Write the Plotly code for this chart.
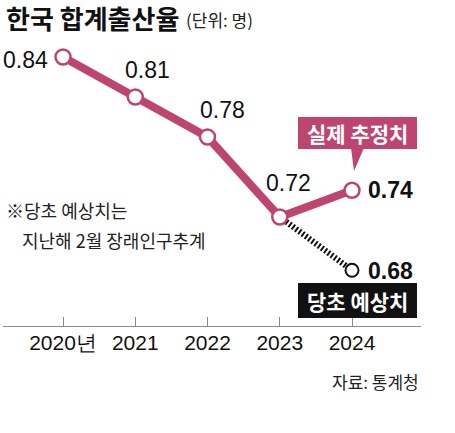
import plotly.graph_objects as go

# ---- data ----
years = [2020, 2021, 2022, 2023, 2024]
tick_labels = ["2020년", "2021", "2022", "2023", "2024"]
actual = [0.84, 0.81, 0.78, 0.72, 0.74]
forecast_years = [2023, 2024]
forecast = [0.72, 0.68]

title_text = "한국 합계출산율"
unit_text = "(단위: 명)"
note_lines = ["※당초 예상치는", "지난해 2월 장래인구추계"]
source_text = "자료: 통계청"
actual_label = "실제 추정치"
forecast_label = "당초 예상치"

PINK = "#BF4571"
NFONT = "Liberation Sans, Arial, sans-serif"
KFONT = "Noto Sans CJK KR, sans-serif"

W, H = 455, 433
L, R, T, B = 3, 421, 45, 326  # plot area in px
XR = [2019.1696, 2024.955]
YR = [0.6382, 0.8490]


def px2x(px):
    return XR[0] + (px - L) / (R - L) * (XR[1] - XR[0])


def py2y(py):
    return YR[1] - (py - T) / (B - T) * (YR[1] - YR[0])


def text_at(px, py, text, size, family=KFONT, color="#111", xanchor="left"):
    # paper coordinates (relative to plot area), so text outside the axes still shows
    return dict(x=(px - L) / (R - L), y=(B - py) / (B - T), xref="paper", yref="paper",
                text=text, showarrow=False, xanchor=xanchor, yanchor="middle",
                font=dict(family=family, size=size, color=color))


fig = go.Figure()

# forecast (hatched black)
fig.add_trace(go.Scatter(
    x=forecast_years, y=forecast, mode="lines",
    line=dict(color="#111", width=6, dash="2px,2px"),
    hoverinfo="skip", showlegend=False))
fig.add_trace(go.Scatter(
    x=forecast_years[1:], y=forecast[1:], mode="markers",
    marker=dict(size=13, color="white", line=dict(color="#111", width=2)),
    hoverinfo="skip", showlegend=False))

# actual (pink)
fig.add_trace(go.Scatter(
    x=years, y=actual, mode="lines+markers",
    line=dict(color=PINK, width=8),
    marker=dict(size=15, color="white", line=dict(color=PINK, width=2.5)),
    hoverinfo="skip", showlegend=False))

annotations = []

# value labels
label_pos = {
    0: dict(xanchor="right", xshift=-13, yshift=-3, bold=False),
    1: dict(xanchor="center", xshift=12, yshift=27, bold=False),
    2: dict(xanchor="center", xshift=15, yshift=27, bold=False),
    3: dict(xanchor="center", xshift=9, yshift=34, bold=False),
    4: dict(xanchor="left", xshift=14, yshift=0, bold=True),
}
for i, (yr, v) in enumerate(zip(years, actual)):
    p = label_pos[i]
    txt = f"{v:.2f}"
    if p["bold"]:
        txt = f"<b>{txt}</b>"
    annotations.append(dict(
        x=yr, y=v, xref="x", yref="y", text=txt, showarrow=False,
        xanchor=p["xanchor"], yanchor="middle", xshift=p["xshift"], yshift=p["yshift"],
        font=dict(family=NFONT, size=23, color="#111")))
annotations.append(dict(
    x=forecast_years[1], y=forecast[1], xref="x", yref="y",
    text=f"<b>{forecast[1]:.2f}</b>", showarrow=False,
    xanchor="left", yanchor="middle", xshift=14, yshift=-1,
    font=dict(family=NFONT, size=23, color="#111")))

# title, unit, note, source
annotations.append(text_at(4, 17, f"<b>{title_text}</b>", 26))
annotations.append(text_at(184, 19, unit_text, 17, color="#222"))
annotations.append(text_at(4, 210, note_lines[0], 18, color="#222"))
annotations.append(text_at(20, 240, note_lines[1], 18, color="#222"))
annotations.append(text_at(421, 381, source_text, 17, color="#222", xanchor="right"))

# callout boxes
shapes = []
shapes.append(dict(type="rect", xref="x", yref="y",
                   x0=px2x(298), x1=px2x(417), y0=py2y(149), y1=py2y(117),
                   fillcolor=PINK, line=dict(width=0), layer="above"))
shapes.append(dict(type="path", xref="x", yref="y",
                   path=f"M {px2x(351)} {py2y(148)} L {px2x(364)} {py2y(148)} L {px2x(354)} {py2y(171)} Z",
                   fillcolor=PINK, line=dict(width=0), layer="above"))
annotations.append(text_at(357.5, 133, f"<b>{actual_label}</b>", 21, color="white", xanchor="center"))

by0, by1 = 283, 318
shapes.append(dict(type="rect", xref="x", yref="y",
                   x0=px2x(298), x1=px2x(417), y0=py2y(by1), y1=py2y(by0),
                   fillcolor="#111", line=dict(width=0), layer="above"))
annotations.append(text_at(357.5, (by0 + by1) / 2, f"<b>{forecast_label}</b>", 21,
                           color="white", xanchor="center"))

fig.update_layout(
    width=W, height=H,
    margin=dict(l=L, r=W - R, t=T, b=H - B),
    paper_bgcolor="white", plot_bgcolor="white",
    showlegend=False,
    annotations=annotations, shapes=shapes,
    xaxis=dict(range=XR, tickvals=years, ticktext=tick_labels,
               showline=True, linecolor="#8a8a8a", linewidth=1,
               ticks="inside", ticklen=9, tickcolor="#8a8a8a", tickwidth=1,
               showgrid=False, zeroline=False, fixedrange=True,
               ticklabelstandoff=-2,
               tickfont=dict(family=NFONT, size=21, color="#111")),
    yaxis=dict(range=YR, visible=False, showgrid=False, zeroline=False, fixedrange=True),
)

fig.write_html("out.html")
